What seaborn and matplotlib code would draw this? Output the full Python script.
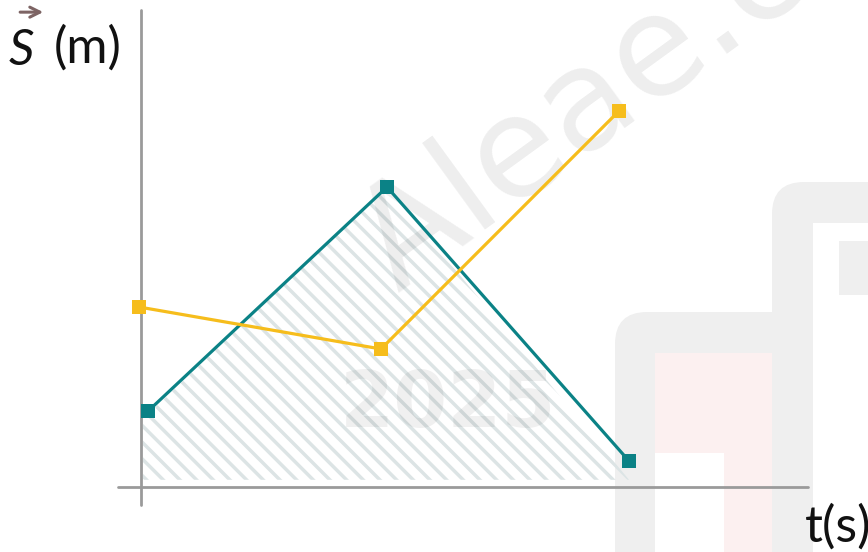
import numpy as np
import pandas as pd
import matplotlib
matplotlib.use("Agg")
import matplotlib.pyplot as plt
import matplotlib.patches as mpatches
import seaborn as sns

# position-time data (arbitrary units, 1 unit = 40 px on the canvas)
t_teal = [0.18, 6.15, 12.2]
s_teal = [1.9, 7.5, 0.65]
t_yellow = [-0.05, 6.0, 11.95]
s_yellow = [4.5, 3.45, 9.4]

teal = '#0b8286'
yellow = '#f6bd1c'
axis_grey = '#9a9a9a'
logo_grey = '#efefef'


def px(x, y):
    # canvas pixel -> data units (origin of the axes is at pixel 141, 487)
    return (x - 141) / 40, (487 - y) / 40


def box(x0, y0, x1, y1, color, r=0.0, z=0):
    (a, b), (c, d) = px(x0, y1), px(x1, y0)
    if r > 0:
        p = mpatches.FancyBboxPatch((a, b), c - a, d - b, boxstyle=f'round,pad=0,rounding_size={r}',
                                    fc=color, ec='none', zorder=z)
    else:
        p = mpatches.Rectangle((a, b), c - a, d - b, fc=color, ec='none', zorder=z)
    ax.add_patch(p)


sns.set_theme(style='white')
plt.rcParams['font.family'] = ['Lato', 'DejaVu Sans']
plt.rcParams['hatch.linewidth'] = 2.5
plt.rcParams['hatch.color'] = '#dce4e5'

fig = plt.figure(figsize=(8.68, 5.52), dpi=100)
ax = fig.add_axes([0, 0, 1, 1])

# logo watermark
box(615, 312, 950, 650, logo_grey, r=0.8)
box(772, 182, 1000, 650, logo_grey, r=0.8)
box(813, 223, 1000, 650, 'white')
box(655, 353, 772, 650, '#fcf0f0')
box(655, 453, 724, 650, 'white')
box(839, 241, 1000, 295, logo_grey)

# hatched area under the teal curve
ax.fill_between([0.05] + t_teal[1:], [1.7] + s_teal[1:-1] + [0.18], 0.18,
                facecolor='none', edgecolor='#dce4e5', hatch='\\\\', linewidth=0, zorder=1)

# text watermark
tx, ty = px(398, 292)
ax.text(tx, ty, 'Aleae.c', fontsize=101, color='black', alpha=0.07, rotation=36,
        rotation_mode='anchor', ha='left', va='baseline', zorder=1.5, family='DejaVu Sans')
tx, ty = px(448, 405)
ax.text(tx, ty, '2025', fontsize=56, color='black', alpha=0.06, ha='center', va='center',
        zorder=1.5, family='DejaVu Sans', fontweight='bold')

# axes lines
ax.plot([-0.575, 16.675], [0, 0], color=axis_grey, lw=2, zorder=2)
ax.plot([0, 0], [-0.45, 11.925], color=axis_grey, lw=2, zorder=2)

df = pd.DataFrame({'t': t_teal + t_yellow, 's': s_teal + s_yellow,
                   'line': ['teal'] * 3 + ['yellow'] * 3})
sns.lineplot(data=df, x='t', y='s', hue='line', palette={'teal': teal, 'yellow': yellow},
             marker='s', markersize=10.5, markeredgewidth=0, linewidth=2.3,
             sort=False, legend=False, ax=ax, zorder=3)
ax.set_xlim(-3.525, 18.175)
ax.set_ylim(-1.625, 12.175)
ax.axis('off')

# axis labels
fig.text(0.010, 0.882, 'S', fontsize=36, style='italic', color='#111111', ha='left', va='baseline')
ax.annotate('', xy=(0.053, 0.978), xytext=(0.020, 0.978), xycoords='figure fraction',
            arrowprops=dict(arrowstyle='->', color='#7d6464', lw=2.2, mutation_scale=18))
fig.text(0.062, 0.887, '(m)', fontsize=36, color='#111111', ha='left', va='baseline')
fig.text(0.927, 0.018, 't(s)', fontsize=36, color='#111111', ha='left', va='baseline')

fig.savefig('out.png', dpi=100)
